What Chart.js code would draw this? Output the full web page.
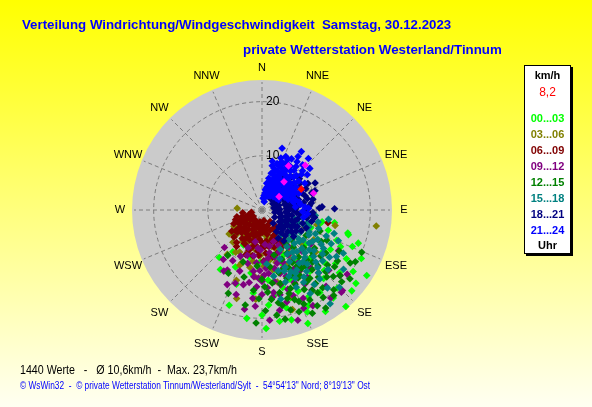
<!DOCTYPE html>
<html>
<head>
<meta charset="utf-8">
<script src="https://cdn.jsdelivr.net/npm/chart.js@4.4.0/dist/chart.umd.min.js"></script>
<style>
html,body{margin:0;padding:0}
body{width:592px;height:407px;overflow:hidden;position:relative;background:linear-gradient(#ffff00,#fffff2);font-family:"Liberation Sans",Arial,sans-serif}
#c{position:absolute;left:0;top:0}
.t{position:absolute;white-space:pre;line-height:1;transform-origin:0 0}
.head{color:#0000ff;font-weight:bold;font-size:13px}
#legend{position:absolute;left:524px;top:65px;width:45px;height:187px;background:#fff;border:1px solid #000;box-shadow:2px 2px 0 #000}
#legend div{position:absolute;left:0;width:45px;text-align:center;font-weight:bold;font-size:11px;line-height:12px}
</style>
</head>
<body>
<canvas id="c" width="592" height="407"></canvas>
<div class="t head" style="left:22px;top:18px" data-w="429">Verteilung Windrichtung/Windgeschwindigkeit  Samstag, 30.12.2023</div>
<div class="t head" style="left:243px;top:43px" data-w="259">private Wetterstation Westerland/Tinnum</div>
<div id="legend"></div>
<div class="t" style="left:20px;top:364px;font-size:12px;color:#000" data-w="217">1440 Werte   -   Ø 10,6km/h  -  Max. 23,7km/h</div>
<div class="t" style="left:20px;top:381px;font-size:10px;color:#0000ff" data-w="350">© WsWin32  -  © private Wetterstation Tinnum/Westerland/Sylt  -  54°54'13" Nord; 8°19'13" Ost</div>
<script>
// compass labels + speed rings (km/h)
const dirLabels = ['N','NNE','NE','ENE','E','ESE','SE','SSE','S','SSW','SW','WSW','W','WNW','NW','NNW'];
const ringTicks = [10, 20];
const rMax = 24;

// time buckets (Uhr) and their colours
const hourLabels = ['00...03','03...06','06...09','09...12','12...15','15...18','18...21','21...24'];
const hourColors = ['#00ff00','#808000','#800000','#800080','#008000','#008080','#000080','#0000ff'];

// [direction deg, speed km/h]
const h00_03 = [[230,6.9],[208,7.3],[215,13.4],[199,18.6],[178,21.9],[171,20.8],[148,22.1],[139,23.6],[141,20.9],[104,10.9],[107,12.8],[106,16.6],[109,18.8],[112,14.9],[120,18.0],[124,20.3],[156,20.6],[175,13.0],[199,14.5],[129,18.4],[132,22.3],[101,11.3],[105,16.4],[115,16.0],[118,11.8],[125,13.6],[130,15.0],[135,12.6],[138,17.0],[142,14.4],[146,11.4],[150,15.6],[152,18.2],[158,13.8],[162,17.0],[165,14.8],[168,11.2],[172,16.0],[160,10.4],[154,9.2],[140,8.8],[128,10.2],[145,18.6],[136,20.0],[186,15.4],[190,11.8],[182,9.6],[195,9.0],[215,9.4],[222,11.8],[165,21.0],[158,22.6],[116,20.4],[126,16.8],[110,9.6],[176,17.6],[148,7.0],
  [120,14.6],[134,16.0],[144,12.8],[150,13.4],[156,16.4],[166,18.6],[180,19.4],[188,20.2],[205,11.6],[100,13.6],[112,18.0],[128,22.0],[122,22.8],[154,19.6],[170,9.2]];
const h03_06 = [[274,4.6],[98,21.3],[102,13.8],[105,10.5],[161,17.0],[198,8.4],[201,10.5],[205,6.5],[202,11.0],[184,16.5],[163,19.2],[196,17.0],[234,7.5],[212,9.2],[222,8.0],[190,9.6],[178,10.4],[170,11.2],[160,9.8],[155,8.2],[150,10.6],[165,7.0],[175,6.2],[185,7.2],[195,6.8],[215,5.8],[225,5.0],[240,6.0],[248,4.2],[230,3.4],[218,3.0],[205,2.6],[195,4.2],[188,5.0],[180,3.6],[172,4.8],[160,5.4],[150,6.6],[145,8.6],[140,10.2],[135,7.6],[130,9.4],[128,12.6],[146,12.2],[168,13.6],[186,12.4],[200,13.8],[156,14.8],[120,11.0],[112,8.6],[210,4.6],[242,2.8],[226,6.6],[192,2.6],
  [238,4.6],[222,4.2],[212,6.8],[200,5.6],[190,7.4],[182,8.4],[172,9.4],[165,10.0],[156,11.2],[148,9.6],[142,6.8],[138,12.0],[180,12.4],[192,10.8],[208,8.8],[218,10.4],[170,5.4],[160,7.6],[196,3.4],[230,5.4]];
const h06_09 = [[238,4.7],[245,4.2],[252,3.8],[232,5.2],[226,4.6],[240,3.3],[250,2.6],[230,2.8],[220,3.6],[215,4.4],[222,5.6],[212,5.2],[205,4.0],[198,3.2],[210,2.4],[190,2.2],[195,5.0],[202,6.0],[215,6.4],[228,6.2],[208,7.0],[198,7.8],[190,6.6],[185,5.4],[180,4.2],[176,3.0],[170,2.0],[168,4.6],[172,5.8],[180,6.8],[186,7.6],[167,8.9],[175,8.0],[162,7.2],[160,5.6],[158,4.0],[165,3.2],[155,6.4],[150,5.0],[152,7.8],[192,8.6],[200,8.8],[218,7.6],[235,6.8],[244,5.8],[255,4.8],[262,3.6],[258,2.0],[235,2.0],[185,3.6],[194,4.4],[207,5.4],[178,9.4],[101,12.4],[140,4.0],[145,2.6],
  [236,4.0],[228,3.8],[242,5.0],[248,3.2],[220,4.8],[212,3.2],[202,4.8],[196,6.0],[188,4.6],[182,5.8],[176,6.8],[170,6.8],[164,6.0],[156,5.2],[150,4.0],[160,3.0],[172,3.8],[180,2.8],[195,2.6],[218,2.2],[225,5.6],[232,6.0],[210,6.2],[203,7.2],[194,7.0],[184,8.4],[170,8.2],[160,8.4],[148,6.8],[215,8.2],[226,7.2],[250,5.2],[206,3.4],[188,3.0]];
const h09_12 = [[212,13.3],[197,16.3],[187,12.4],[173,16.2],[127,19.7],[135,21.0],[136,21.1],[157,19.7],[186,7.1],[173,9.0],[180,13.2],[184,14.2],[190,13.6],[178,12.0],[176,14.4],[182,11.2],[160,13.0],[156,14.6],[162,15.4],[164,12.2],[152,12.4],[150,15.8],[168,11.0],[158,10.4],[165,9.0],[170,8.0],[150,9.6],[145,11.8],[140,14.0],[148,17.4],[155,18.0],[165,17.6],[170,18.8],[140,18.4],[132,16.6],[128,13.8],[136,10.6],[144,8.4],[155,7.2],[175,6.4],[190,8.6],[195,10.2],[200,12.0],[205,9.4],[210,10.8],[218,11.6],[225,9.8],[200,7.4],[192,6.0],[160,6.2],[125,11.0],[118,16.0],[176,20.4],[190,18.6],[205,15.2],[142,20.6],[162,21.4],[186,9.8],
  [178,9.6],[183,12.6],[188,11.4],[174,11.8],[170,13.4],[166,14.2],[172,15.4],[180,15.6],[186,16.4],[160,11.4],[154,13.6],[148,13.2],[142,12.4],[150,11.0],[158,8.4],[168,6.8],[176,10.8],[194,14.2],[198,8.8],[182,7.4],[138,15.6],[146,15.0],[160,16.8],[168,16.0],[152,20.0],[130,18.8],[184,17.8],[200,14.4],[210,12.8],[164,10.2]];
const h12_15 = [[183,20.9],[217,10.5],[128,20.6],[113,20.0],[119,19.7],[121,19.0],[133,18.0],[148,17.5],[145,19.7],[202,16.6],[164,19.2],[186,14.9],[150,14.0],[145,15.4],[140,16.2],[135,14.6],[130,15.8],[138,12.4],[142,11.0],[148,12.2],[152,16.6],[156,15.0],[160,13.4],[155,11.8],[160,17.6],[168,15.6],[172,13.6],[165,12.0],[158,9.8],[150,9.2],[140,9.0],[132,10.4],[126,12.0],[124,16.8],[130,18.8],[138,19.8],[150,20.4],[156,19.0],[170,17.4],[176,15.2],[180,12.8],[172,10.6],[165,8.6],[145,7.6],[135,7.8],[120,9.4],[115,13.2],[118,16.2],[110,11.4],[178,18.6],[190,17.8],[195,12.8],[200,10.2],[208,13.2],[185,10.4],[146,13.0],[136,17.2],[128,13.8],[142,18.2],[162,16.2],[154,21.2],[168,20.6],
  [132,12.6],[136,13.4],[140,14.4],[144,16.8],[148,15.6],[152,14.2],[156,13.2],[160,15.4],[164,17.0],[168,18.0],[158,18.2],[152,18.8],[146,18.4],[134,16.4],[128,17.0],[124,14.2],[130,12.0],[142,13.2],[150,11.2],[160,11.6],[166,14.0],[174,16.6],[178,14.2],[182,16.4],[140,20.6],[132,19.8],[147,21.6],[160,20.0],[172,19.6],[118,12.4]];
const h15_18 = [[96,9.9],[144,21.4],[105,8.8],[110,7.2],[115,9.6],[120,8.2],[125,10.6],[130,9.0],[135,11.2],[140,10.0],[145,12.0],[150,9.4],[118,11.6],[112,12.8],[122,13.4],[128,12.2],[134,13.8],[140,13.0],[148,14.6],[155,12.6],[152,10.8],[158,11.4],[130,6.6],[122,6.0],[115,5.4],[105,6.2],[100,7.4],[138,7.4],[146,8.2],[155,8.0],[160,9.6],[165,11.6],[125,15.2],[132,16.4],[138,15.6],[145,16.8],[150,17.8],[118,17.0],[112,15.2],[108,11.0],[102,10.6],[98,12.4],[126,18.6],[140,18.8],[156,15.6],[162,14.0],[170,12.4],[135,20.2],[128,7.6],[142,5.8],[112,4.8],[120,4.4],[168,16.8],[175,10.0],[108,14.0],
  [110,9.2],[114,10.8],[118,9.8],[122,11.0],[126,9.4],[130,11.4],[134,10.2],[138,11.8],[142,12.2],[146,10.6],[150,12.8],[154,14.0],[120,12.6],[116,14.2],[126,13.8],[132,12.8],[136,14.8],[144,14.0],[150,15.4],[158,13.2],[160,12.0],[130,14.6],[122,16.2],[140,16.6],[128,8.6],[136,8.6],[118,7.2],[110,8.4],[144,9.6],[152,13.2]];
const h18_21 = [[63,11.0],[71,9.7],[88,10.6],[89,13.4],[82,9.2],[87,11.1],[76,8.6],[95,9.0],[60,9.8],[55,8.6],[67,8.0],[80,7.8],[92,8.1],[100,8.4],[108,7.9],[50,7.6],[58,7.2],[66,6.8],[74,7.0],[84,6.6],[96,7.0],[104,6.8],[115,7.2],[45,6.5],[53,6.0],[62,5.8],[72,5.6],[82,5.4],[90,5.8],[100,5.6],[110,5.9],[120,6.2],[40,5.2],[48,4.9],[57,4.6],[66,4.4],[76,4.3],[86,4.5],[95,4.4],[105,4.6],[115,4.8],[125,5.2],[35,4.0],[44,3.7],[54,3.5],[64,3.3],[75,3.2],[88,3.3],[100,3.4],[112,3.6],[124,3.9],[135,4.4],[40,2.6],[60,2.3],[80,2.2],[100,2.4],[120,2.7],[140,3.2],[130,6.2],[140,5.5],[118,8.2],[98,9.8],[70,10.4],[145,7.0],[35,6.2],[28,5.0],[32,7.4],
  [42,8.2],[50,9.0],[64,9.0],[72,8.4],[78,9.6],[85,8.8],[93,9.4],[103,9.4],[112,8.8],[122,7.4],[130,7.6],[138,6.4],[128,4.6],[118,4.2],[108,3.8],[96,3.0],[84,2.8],[70,2.6],[56,2.9],[46,3.2],[52,5.4],[62,5.0],[70,4.9],[80,4.9],[90,5.0],[100,5.0],[110,5.2],[120,5.4],[78,6.2],[88,6.2],[108,6.4],[94,6.4],[116,6.6],[126,6.8],[134,5.2],[146,4.8],[150,6.0],[58,8.0]];
const h21_24 = [[18,12.0],[34,13.0],[24,10.8],[34,11.9],[42,12.8],[42,11.2],[49,11.7],[22,9.6],[27,9.9],[30,9.2],[20,8.8],[25,8.5],[31,8.4],[36,8.9],[16,8.0],[22,7.7],[28,7.6],[34,7.8],[40,8.1],[45,9.0],[14,7.0],[19,6.8],[25,6.9],[31,6.6],[37,6.9],[43,7.2],[50,7.8],[12,6.0],[17,5.7],[23,5.9],[29,5.6],[35,5.8],[41,6.0],[47,6.3],[55,6.8],[10,5.0],[15,4.6],[21,4.9],[27,4.5],[33,4.8],[39,5.0],[46,5.2],[53,5.5],[60,6.0],[9,3.8],[14,3.5],[20,3.9],[26,3.6],[32,3.9],[38,4.1],[45,4.3],[52,4.5],[60,4.8],[8,2.7],[15,2.5],[22,2.8],[30,3.0],[40,3.2],[50,3.4],[58,3.6],[68,5.2],[72,6.4],[66,7.4],[78,7.0],[85,6.2],[92,7.5],[88,8.6],[58,9.3],[63,8.2],[27,10.5],[38,10.2],[12,9.2],[10,3.2],[5,2.2],[15,1.6],
  [18,9.0],[24,9.3],[29,8.0],[33,9.6],[39,9.4],[44,8.4],[48,9.8],[52,8.6],[56,7.6],[62,7.0],[13,8.4],[17,7.3],[21,6.2],[26,7.3],[32,6.2],[37,7.5],[42,6.6],[48,7.0],[54,6.2],[60,5.4],[64,6.2],[70,5.8],[76,6.0],[82,7.2],[86,8.0],[95,8.4],[100,7.8],[24,4.2],[30,5.2],[36,4.5],[43,4.8],[49,5.8],[56,5.0],[18,5.3],[12,4.3],[20,10.2],[30,10.9],[46,10.4],[52,10.6],[36,11.0]];
const pinkPts = [[31,9.5],[44,11.5],[72,10.0],[38,6.6],[52,4.0]];
const currentWind = [[62,8.2]];
const buckets = [h00_03,h03_06,h06_09,h09_12,h12_15,h15_18,h18_21,h21_24];

const toXY = ([d, v]) => ({x: v * Math.sin(d * Math.PI / 180), y: v * Math.cos(d * Math.PI / 180)});

// legend box
const leg = document.getElementById('legend');
function legLine(txt, top, color, extra){
  const d = document.createElement('div');
  d.textContent = txt; d.style.top = top + 'px'; d.style.color = color;
  if (extra) Object.assign(d.style, extra);
  leg.appendChild(d);
}
legLine('km/h', 3, '#000');
legLine(String(currentWind[0][1]).replace('.', ','), 20, '#ff0000', {fontWeight:'normal', fontSize:'12px'});
hourLabels.forEach((h, i) => legLine(h, 46 + i * 16, hourColors[i]));
legLine('Uhr', 173, '#000');

const polarGrid = {
  id: 'polarGrid',
  beforeDatasetsDraw(chart) {
    const ctx = chart.ctx, x = chart.scales.x, y = chart.scales.y;
    const cx = x.getPixelForValue(0), cy = y.getPixelForValue(0);
    const rad = v => x.getPixelForValue(v) - cx;
    const R = rad(rMax);
    ctx.save();
    ctx.fillStyle = '#cbcbcb';
    ctx.beginPath(); ctx.arc(cx, cy, R, 0, Math.PI * 2); ctx.fill();
    ctx.strokeStyle = '#7c7c7c'; ctx.lineWidth = 1; ctx.setLineDash([4, 3]);
    ringTicks.forEach(t => { ctx.beginPath(); ctx.arc(cx, cy, rad(t), 0, Math.PI * 2); ctx.stroke(); });
    dirLabels.forEach((lab, i) => {
      const a = i * 22.5 * Math.PI / 180;
      ctx.beginPath(); ctx.moveTo(cx, cy); ctx.lineTo(cx + (R - 2) * Math.sin(a), cy - (R - 2) * Math.cos(a)); ctx.stroke();
    });
    ctx.setLineDash([]);
    ctx.fillStyle = '#000';
    ctx.font = '11px "Liberation Sans", Arial, sans-serif';
    ctx.textAlign = 'center'; ctx.textBaseline = 'middle';
    dirLabels.forEach((lab, i) => {
      const a = i * 22.5 * Math.PI / 180;
      const lr = R + (i % 4 === 0 ? 12 : 15);
      ctx.fillText(lab, cx + lr * Math.sin(a), cy - lr * Math.cos(a));
    });
    ctx.font = '12px "Liberation Sans", Arial, sans-serif';
    ctx.textAlign = 'left';
    ringTicks.forEach(t => ctx.fillText(String(t), cx + 4, cy - rad(t)));
    ctx.restore();
  }
};

const datasets = buckets.map((b, i) => ({
  label: hourLabels[i],
  data: b.map(toXY),
  backgroundColor: hourColors[i],
  borderColor: hourColors[i],
  order: 10 - i
}));
datasets.push({label: 'pink', data: pinkPts.map(toXY), backgroundColor: '#ff00ff', borderColor: '#ff00ff', order: 1});
datasets.push({label: 'aktuell', data: currentWind.map(toXY), backgroundColor: '#ff0000', borderColor: '#ff0000', order: 0});

new Chart(document.getElementById('c'), {
  type: 'scatter',
  data: {datasets},
  options: {
    responsive: false,
    animation: false,
    layout: {padding: {left: 132, top: 80, right: 200, bottom: 67}},
    elements: {point: {pointStyle: 'rectRot', radius: 3.8, borderWidth: 0, hoverRadius: 3.8}},
    scales: {
      x: {type: 'linear', min: -rMax, max: rMax, display: false},
      y: {type: 'linear', min: -rMax, max: rMax, display: false}
    },
    plugins: {legend: {display: false}, tooltip: {enabled: false}}
  },
  plugins: [polarGrid]
});

// squeeze texts to the widths in the picture
document.querySelectorAll('[data-w]').forEach(el => {
  const w = +el.dataset.w;
  el.style.transform = 'scaleX(' + (w / el.offsetWidth) + ')';
});
</script>
</body>
</html>
